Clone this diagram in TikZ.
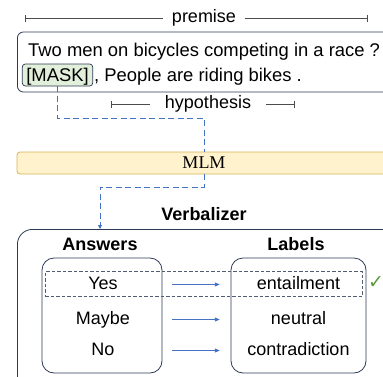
\documentclass[tikz,border=0pt]{standalone}
\usepackage{fontspec}
\setmainfont{Liberation Sans}
\newfontfamily\mlmfont{Liberation Serif}
\newfontfamily\symfont{DejaVu Sans}
\usetikzlibrary{positioning,arrows.meta}
\definecolor{navy}{HTML}{2B3A55}
\definecolor{selgray}{HTML}{505C72}
\definecolor{linkblue}{HTML}{4472C4}
\definecolor{maskgreen}{HTML}{E2EFDA}
\definecolor{mlmfill}{HTML}{FFF2CC}
\definecolor{mlmdraw}{HTML}{D6B656}
\definecolor{chkgreen}{HTML}{5B9B3A}
\def\fsz{\fontsize{18}{25}\selectfont}
\def\ctxsz{\fontsize{18.4}{25}\selectfont}

\begin{document}
\begin{tikzpicture}[x=1pt, y=-1pt,
  every node/.style={font=\fsz},
  txt/.style={inner sep=0pt, text height=12.9pt, text depth=3.8pt},
  ttl/.style={txt, font=\bfseries\fsz},
  bracelbl/.style={txt, inner xsep=8.5pt},
  brace/.style={draw=black!70, line width=0.6pt},
  ctxbox/.style={rectangle, rounded corners=6pt, draw=navy, line width=0.8pt},
  maskbox/.style={rectangle, rounded corners=3pt, draw=navy, fill=maskgreen,
                  line width=0.7pt, inner xsep=4pt, inner ysep=4.55pt,
                  text height=12.9pt, text depth=0pt, font=\ctxsz},
  mlmbox/.style={rectangle, rounded corners=3pt, draw=mlmdraw, fill=mlmfill,
                 line width=0.8pt, minimum width=374pt, minimum height=22pt,
                 inner sep=0pt, font=\mlmfont\fsz},
  bigbox/.style={rectangle, rounded corners=15pt, draw=navy, line width=0.8pt},
  colbox/.style={rectangle, rounded corners=12pt, draw=navy, line width=0.8pt},
  selbox/.style={rectangle, draw=selgray, line width=0.8pt,
                 dash pattern=on 3.5pt off 2pt},
  ansrow/.style={txt, minimum width=118pt},
  labrow/.style={txt, minimum width=135pt},
  link/.style={draw=linkblue, line width=0.8pt, dash pattern=on 6pt off 3.5pt},
  arr/.style={draw=linkblue, line width=0.8pt, -{Triangle[length=5pt,width=4pt]},
              shorten <=10pt, shorten >=11pt}
]
\clip (0,0) rectangle (383,376);

% input sentence
\node[bracelbl] (prem) at (204,18) {premise};
\coordinate (pL) at (25,18);
\coordinate (pR) at (368,18);
\draw[brace, {Bar[width=7pt]}-] (pL) -- (prem);
\draw[brace, -{Bar[width=7pt]}] (prem) -- (pR);

\node[ctxbox, minimum width=390pt, minimum height=60pt, anchor=west] (ctx) at (17,62) {};
\node[txt, anchor=base west, font=\ctxsz] (l1) at (28,56.5) {Two men on bicycles competing in a race ?};
\node[maskbox] (mask) at (57.5,75) {[MASK]};
\node[txt, anchor=base west, xshift=1pt, font=\ctxsz] (l2) at (mask.base east) {, People are riding bikes .};

\node[bracelbl, inner xsep=15pt] (hyp) at (208,104) {hypothesis};
\coordinate (hL) at (111,104);
\coordinate (hR) at (295,104);
\draw[brace, {Bar[width=7pt]}-] (hL) -- (hyp);
\draw[brace, -{Bar[width=7pt]}] (hyp) -- (hR);

% model
\node[mlmbox] (mlm) at (204,163) {MLM};
\coordinate (j1) at (204,118);
\draw[link] (mask) |- (j1) -- (mlm);

% verbalizer
\node[ttl] (vttl) at (204,216) {Verbalizer};
\node[bigbox, anchor=north west, minimum width=400pt, minimum height=170pt] (verb) at (17,229) {};
\coordinate (j2) at (100,187);
\draw[link, -{Triangle[length=4pt,width=4pt]}] (mlm.south) |- (j2) -- (j2 |- verb.north);

\node[ttl] (anst) at (100,246) {Answers};
\node[ttl] (labt) at (296,246) {Labels};
\node[colbox, minimum width=120pt, minimum height=115pt] (ansbox) at (102,315.5) {};
\node[colbox, minimum width=135pt, minimum height=115pt] (labbox) at (298.5,315.5) {};
\node[selbox, minimum width=317pt, minimum height=25pt] (sel) at (203.5,284) {};

\node[ansrow] (yes)   at (103,284.5) {Yes};
\node[ansrow] (maybe) at (103,319.5) {Maybe};
\node[ansrow] (no)    at (103,350.5) {No};
\node[labrow] (ent) at (298.5,284.5) {entailment};
\node[labrow] (neu) at (298.5,319.5) {neutral};
\node[labrow] (con) at (298.5,350.5) {contradiction};

\draw[arr] (yes) -- (ent);
\draw[arr] (maybe) -- (neu);
\draw[arr] (no) -- (con);

\node[text=chkgreen, font=\symfont\bfseries\fontsize{19}{19}\selectfont, anchor=west, inner sep=0pt] (chk) at (368,283) {✓};

\end{tikzpicture}
\end{document}
